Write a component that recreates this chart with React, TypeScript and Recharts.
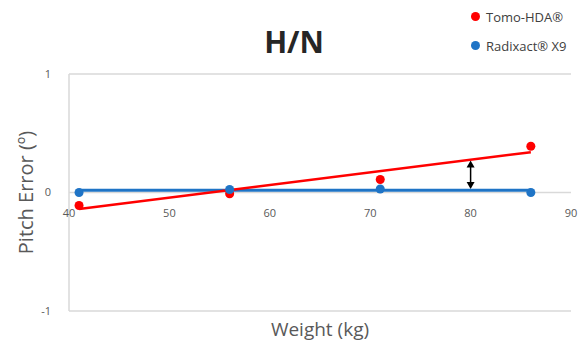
import React from 'react';
import {
  ComposedChart,
  Scatter,
  XAxis,
  YAxis,
  CartesianGrid,
  ReferenceLine,
} from 'recharts';

const weights = [41, 56, 71, 86];
const tomoHda = [-0.11, -0.01, 0.11, 0.39];
const radixact = [0.0, 0.025, 0.03, 0.0];

// fitted trend lines, read at the ends of the data range
const trendX = [41, 86];
const tomoTrend = [-0.14, 0.34];
const radixactTrend = [0.02, 0.02];

const xTicks = [40, 50, 60, 70, 80, 90];
const yTicks = [-1, 0, 1];

const arrowX = 80;
const arrowFrom = 0.03;
const arrowTo = 0.27;

const RED = '#ff0000';
const BLUE = '#1f74c6';
const FONT = '"Open Sans", "Noto Sans", sans-serif';

const seriesNames = ['Tomo-HDA®', 'Radixact® X9'];
const seriesColors = [RED, BLUE];

const W = 584;
const H = 348;
const X_AXIS_H = 30;
const MARGIN = { top: 74, right: 13, bottom: 7, left: 0 };
const PLOT_H = H - MARGIN.top - MARGIN.bottom - X_AXIS_H;

const toPoints = (xs: number[], ys: number[]) => xs.map((x, i) => ({ x, y: ys[i] }));

const tomoData = toPoints(weights, tomoHda);
const radixData = toPoints(weights, radixact);
const tomoLine = toPoints(trendX, tomoTrend);
const radixLine = toPoints(trendX, radixactTrend);

// x ticks sit under the zero line, not at the bottom of the plot
const XTick = (props: any) => {
  const { x, y, payload } = props;
  return (
    <text x={x} y={y - PLOT_H / 2} dy={16} textAnchor="middle" fontSize={11} fill="#595959" fontFamily={FONT}>
      {payload.value}
    </text>
  );
};

const DoubleArrow = (props: any) => {
  const { x1, y1, x2, y2 } = props;
  const top = Math.min(y1, y2);
  const bot = Math.max(y1, y2);
  const x = (x1 + x2) / 2;
  return (
    <g>
      <line x1={x} y1={top + 4} x2={x} y2={bot - 4} stroke="#000" strokeWidth={1.5} />
      <path d={`M${x},${top} L${x - 4},${top + 7} L${x + 4},${top + 7} Z`} fill="#000" />
      <path d={`M${x},${bot} L${x - 4},${bot - 7} L${x + 4},${bot - 7} Z`} fill="#000" />
    </g>
  );
};

export default function App() {
  return (
    <div style={{ position: 'absolute', left: 0, top: 0, width: W, height: H, background: '#fff' }}>
      <div
        style={{
          position: 'absolute',
          left: 0,
          width: 588,
          top: 22,
          textAlign: 'center',
          fontFamily: FONT,
          fontWeight: 700,
          fontSize: 30,
          color: '#262626',
          lineHeight: '40px',
        }}
      >
        H/N
      </div>
      <div
        style={{
          position: 'absolute',
          left: 471,
          top: 2,
          fontFamily: FONT,
          fontSize: 13,
          color: '#404040',
        }}
      >
        {seriesNames.map((name, i) => (
          <div key={name} style={{ display: 'flex', alignItems: 'center', height: 29 }}>
            <span
              style={{
                width: 9,
                height: 9,
                borderRadius: '50%',
                background: seriesColors[i],
                display: 'inline-block',
                marginRight: 6,
              }}
            />
            {name}
          </div>
        ))}
      </div>
      <ComposedChart width={W} height={H} margin={MARGIN} style={{ position: 'absolute', left: 0, top: 0 }}>
        <CartesianGrid vertical={false} stroke="#d9d9d9" strokeWidth={1.5} />
        <XAxis
          type="number"
          dataKey="x"
          domain={[40, 90]}
          ticks={xTicks}
          height={X_AXIS_H}
          axisLine={false}
          tickLine={false}
          tick={<XTick />}
          label={{
            value: 'Weight (kg)',
            position: 'insideBottom',
            offset: 5,
            style: { fontSize: 19, fill: '#595959', fontFamily: FONT },
          }}
        />
        <YAxis
          type="number"
          dataKey="y"
          domain={[-1, 1]}
          ticks={yTicks}
          width={69}
          axisLine={{ stroke: '#d9d9d9', strokeWidth: 1.5 }}
          tickLine={false}
          tickMargin={12}
          tick={{ fontSize: 11, fill: '#595959', fontFamily: FONT }}
          label={{
            value: 'Pitch Error (º)',
            angle: -90,
            position: 'insideLeft',
            offset: 26,
            style: { fontSize: 20, fill: '#595959', fontFamily: FONT, textAnchor: 'middle' },
          }}
        />
        <Scatter
          data={radixLine}
          line={{ stroke: BLUE, strokeWidth: 3 }}
          shape={() => null}
          legendType="none"
          isAnimationActive={false}
        />
        <Scatter
          data={tomoLine}
          line={{ stroke: RED, strokeWidth: 2.5 }}
          shape={() => null}
          legendType="none"
          isAnimationActive={false}
        />
        <Scatter name={seriesNames[0]} data={tomoData} fill={RED} shape="circle" isAnimationActive={false} />
        <Scatter name={seriesNames[1]} data={radixData} fill={BLUE} shape="circle" isAnimationActive={false} />
        <ReferenceLine
          segment={[
            { x: arrowX, y: arrowFrom },
            { x: arrowX, y: arrowTo },
          ]}
          stroke="#000"
          shape={<DoubleArrow />}
        />
      </ComposedChart>
    </div>
  );
}
